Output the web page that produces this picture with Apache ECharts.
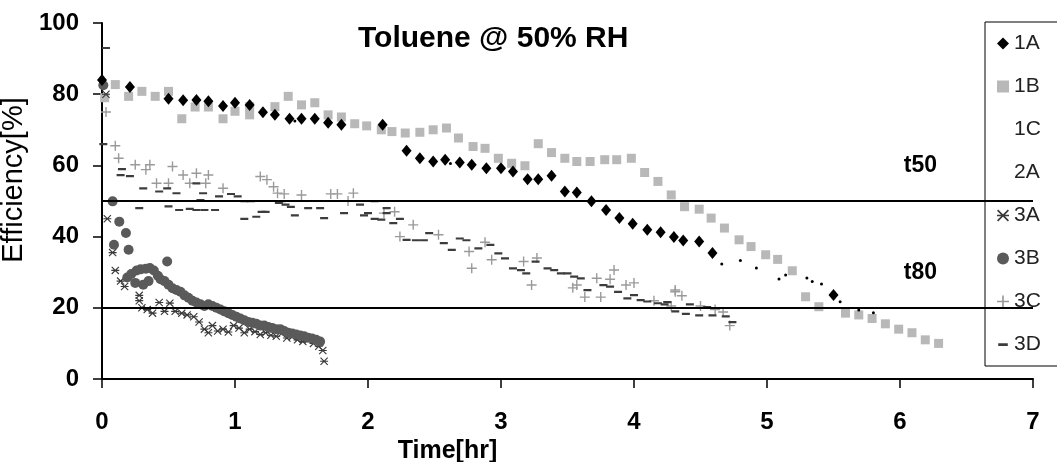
<!DOCTYPE html>
<html>
<head>
<meta charset="utf-8">
<script src="https://cdn.jsdelivr.net/npm/echarts@6/dist/echarts.min.js"></script>
<style>
html,body{margin:0;padding:0;background:#fff;}
#chart{width:1057px;height:462px;}
</style>
</head>
<body>
<div id="chart"></div>
<script>
// ---- data (time [hr], efficiency [%]) ----
const seriesNames = ['1A','1B','1C','2A','3A','3B','3C','3D'];
const xTicks = [0,1,2,3,4,5,6,7];
const yTicks = [0,20,40,60,80,100];
const thresholdValues = [50, 20];
const thresholdLabels = ['t50', 't80'];

const s1A = [[0.0,84],[0.21,82],[0.5,78.7],[0.61,78.3],[0.71,78.4],[0.8,78],[0.91,76.7],[1.0,77.6],[1.11,77],[1.21,74.9],[1.3,74.2],[1.41,73.1],[1.5,73.1],[1.6,73.1],[1.7,72],[1.8,71.4],[2.11,71.4],
  [2.29,64.1],[2.39,62],[2.49,61.1],[2.58,61.6],[2.69,60.8],[2.78,60.2],[2.89,59.2],[3.0,59.2],[3.09,58.3],[3.2,56.1],[3.28,56.1],[3.38,57.1],[3.48,52.7],[3.57,52.4],[3.68,49.9],[3.79,47.5],[3.89,45.2],
  [3.99,43.6],[4.1,41.9],[4.2,41.2],[4.3,39.9],[4.37,38.9],[4.49,38.6],[4.59,35.4],[5.5,23.6]];
const s1B = [[0.02,79],[0.1,82.7],[0.2,79.4],[0.3,80.8],[0.4,79.4],[0.5,80.8],[0.6,73.1],[0.7,76.4],[0.8,76.4],[0.91,73.1],[1.0,75.2],[1.11,74.2],[1.11,76.5],[1.3,76.5],[1.4,79.4],[1.5,77],[1.6,77.6],[1.7,74.2],[1.8,73.6],[1.9,71.7],[1.99,71.1],[2.1,70],
  [2.18,69.5],[2.28,69.1],[2.39,69.3],[2.49,70],[2.59,70.5],[2.68,67.7],[2.79,65.3],[2.88,64.8],[2.98,62],[3.08,60.6],[3.18,59.9],[3.28,66.1],[3.38,63.6],[3.48,62],[3.57,61.1],[3.67,61.1],[3.78,61.6],[3.87,61.6],[3.98,62],[4.08,58],[4.18,55.5],[4.28,51.7],
  [4.38,48.4],[4.49,47.7],[4.58,45.2],[4.68,42.4],[4.79,39.1],[4.88,37.2],[4.99,34.9],[5.08,33.6],[5.19,30.4],[5.29,23.1],[5.39,20.3],[5.59,18.5],[5.69,18],[5.79,17],[5.89,15.5],[5.99,14],[6.09,13],[6.19,11],[6.29,10]];
const s1C = [[4.66,32.3],[4.8,33.3],[4.92,31.2],[5.09,28.1],[5.14,29.2],[5.3,28.4],[5.34,27.4],[5.41,26.7],[5.55,21.7],[5.69,19.4],[5.8,18.6],[2.62,60.5],[1.45,72.5]];
const s2A = [];
const s3A = [[0.03,80],[0.04,45],[0.08,35.5],[0.1,30.5],[0.14,27.5],[0.17,26],[0.28,23.5],[0.28,22],[0.3,20],[0.34,19.5],[0.38,18.5],[0.43,21.5],[0.47,19],[0.51,21.3],[0.55,19],[0.6,18.5],[0.64,18],[0.69,17.5],[0.73,16],[0.77,14],[0.8,13],[0.83,15],[0.87,13.5],[0.91,14],[0.95,13.2],[0.99,15],[1.03,14.3],[1.07,13],[1.11,14],[1.15,13.3],[1.19,12.5],[1.23,13],[1.27,12.3],[1.31,12],[1.35,12.8],[1.39,11.5],[1.43,11.9],[1.47,11],[1.51,10.5],[1.55,11],[1.59,10],[1.63,9.2],[1.66,8],[1.67,5]];
const s3B = [[0.01,82.5],[0.08,49.9],[0.13,44.2],[0.18,41],[0.09,37.7],[0.2,36.3],[0.49,33],
  [0.19,28.5],[0.22,29.5],[0.25,27],[0.26,30.5],[0.29,30.8],[0.31,26.5],[0.33,31],[0.35,27.5],[0.36,31.2],[0.39,30.5],[0.42,29],[0.44,28],[0.47,27.5],[0.5,26.5],[0.53,25.5],[0.56,25],[0.59,24.5],[0.62,23.5],[0.65,22.8],[0.68,22],[0.71,21.5],[0.74,21],[0.77,20.5],[0.8,21],[0.83,20.5],[0.86,20],[0.89,19.5],[0.92,19],[0.95,18.5],[0.98,18],[1.01,17.5],[1.04,17],[1.07,16.5],[1.1,16],[1.13,15.8],[1.16,15.5],[1.19,15],[1.22,15],[1.25,14.6],[1.28,14.3],[1.31,14],[1.34,14],[1.37,13.5],[1.4,13],[1.43,12.8],[1.46,12.5],[1.49,12.2],[1.52,12],[1.55,11.6],[1.58,11.4],[1.61,11],[1.64,10.5]];
const s3C = [[0.03,75],[0.1,65.5],[0.125,62],[0.25,60.2],[0.33,58.8],[0.36,60.2],[0.41,55],[0.5,55],[0.53,59.7],[0.61,57.3],[0.66,55],[0.71,57.8],[0.78,55],[0.8,57.3],[0.91,53.6],[1.19,56.9],[1.24,56],[1.29,54],[1.32,52.2],[1.37,52],[1.5,51.7],[1.72,52],[1.77,52],[1.85,50],[1.89,52.2],[2.12,46.6],[2.2,47],[2.24,40],[2.34,43.3],[2.53,40.5],[2.76,35.8],[2.78,31.1],[2.88,38.4],[2.93,33.5],[3.17,33],[3.23,26.4],[3.27,34],[3.54,25.6],[3.57,26.4],[3.63,23],[3.72,28.3],[3.75,23],[3.82,28],[3.85,30.6],[3.94,26.4],[4.0,27],[4.15,22],[4.28,20.5],[4.31,24.5],[4.31,25],[4.36,23.4],[4.5,20.5],[4.61,19.5],[4.67,18.8],[4.72,15]];
const s3D = [[0.03,93],[0.01,66],[0.15,59],[0.14,57.3],[0.21,57],[0.28,48],[0.31,53.6],[0.43,52.7],[0.49,53.6],[0.5,48.5],[0.56,52.2],[0.58,47.5],[0.66,47.8],[0.71,55],[0.71,47.5],[0.74,50.3],[0.76,52.2],[0.77,47.5],[0.85,47.5],[0.88,51.3],[0.97,52],[1.02,51.3],[1.07,50],[1.07,45],[1.12,50],[1.16,45.6],[1.2,47],[1.23,47],[1.33,49.5],[1.35,50],[1.38,49],[1.42,48.4],[1.45,46],[1.55,48],[1.64,48],[1.67,45.2],[1.82,46.6],[1.94,49],[1.97,46],[2.0,46.6],[2.05,50],[2.05,45],[2.1,44.8],[2.14,48],[2.14,46.6],[2.19,43.8],[2.24,45],[2.29,39.1],[2.36,39],[2.42,39],[2.46,41],[2.57,38.2],[2.63,36.3],[2.69,39.5],[2.74,39],[2.83,36.7],[2.92,37.7],[2.98,35.3],[3.03,33.9],[3.09,31.1],[3.15,30.6],[3.19,29.7],[3.26,33],[3.35,31.1],[3.4,30.6],[3.45,29.7],[3.5,29.7],[3.55,28.8],[3.6,28.3],[3.65,25],[3.77,26.4],[3.82,26],[3.88,24.5],[3.95,22.7],[4.0,23.6],[4.05,22.2],[4.1,21.8],[4.18,21.3],[4.23,21],[4.25,21.6],[4.31,19],[4.39,18.3],[4.42,21],[4.49,17.9],[4.55,20.2],[4.59,17.9],[4.69,17.6],[4.74,16]];

const seriesData = [s1A, s1B, s1C, s2A, s3A, s3B, s3C, s3D];

// ---- styles ----
const FONT = '"Liberation Sans", Arial, sans-serif';
const PATH_ASTERISK = 'path://M0,1L1,0L10,9L9,10ZM9,0L10,1L1,10L0,9ZM0,4.3H10V5.7H0Z';
const PATH_PLUS = 'path://M4.3,0H5.7V4.3H10V5.7H5.7V10H4.3V5.7H0V4.3H4.3Z';
const PATH_DASH = 'path://M0,0ZM1,4H9V6.2H1ZM10,10Z';
const styles = {
  '1A': {symbol:'diamond', size:[10,12], color:'#000000', z:5, icon:'diamond'},
  '1B': {symbol:'rect', size:9, color:'#b8b8b8', z:2, icon:'rect'},
  '1C': {symbol:'circle', size:3, color:'#000000', z:5, icon:'none'},
  '2A': {symbol:'none', size:0, color:'#000', z:1, icon:'none'},
  '3A': {symbol:PATH_ASTERISK, size:8, color:'#3a3a3a', z:3, icon:PATH_ASTERISK},
  '3B': {symbol:'circle', size:10, color:'#5a5a5a', z:4, icon:'circle'},
  '3C': {symbol:PATH_PLUS, size:10, color:'#9a9a9a', z:3, icon:PATH_PLUS},
  '3D': {symbol:PATH_DASH, size:10, color:'#3c3c3c', z:3, icon:PATH_DASH}
};

const series = seriesNames.map((name, i) => {
  const st = styles[name];
  return {
    name: name,
    type: 'scatter',
    data: seriesData[i],
    symbol: st.symbol,
    symbolSize: st.size,
    itemStyle: {color: st.color, opacity: 1},
    z: st.z,
    silent: true
  };
});

series.push({
  name: 'thresholds',
  type: 'line',
  data: [],
  silent: true,
  markLine: {
    silent: true,
    symbol: 'none',
    lineStyle: {color: '#000', width: 2, type: 'solid'},
    label: {
      show: true,
      position: 'insideEndTop',
      distance: [96, 24],
      color: '#000',
      fontFamily: FONT,
      fontWeight: 'bold',
      fontSize: 23
    },
    data: thresholdValues.map((v, i) => ({yAxis: v, label: {formatter: thresholdLabels[i]}}))
  }
});

const chart = echarts.init(document.getElementById('chart'), null, {renderer: 'canvas'});
chart.setOption({
  animation: false,
  backgroundColor: '#fff',
  title: {
    text: 'Toluene @ 50% RH',
    left: 358,
    top: 24,
    padding: 0,
    textStyle: {fontFamily: FONT, fontWeight: 'bold', fontSize: 30, color: '#000'}
  },
  legend: {
    orient: 'vertical',
    left: 985,
    top: 22,
    padding: [11, 40, 11, 12],
    itemGap: 22,
    itemWidth: 12,
    itemHeight: 12,
    borderColor: '#000',
    borderWidth: 1,
    selectedMode: false,
    textStyle: {fontFamily: FONT, fontSize: 21, color: '#222', lineHeight: 20},
    data: seriesNames.map(n => ({name: n, icon: styles[n].icon}))
  },
  grid: {left: 102, right: 24, top: 23, bottom: 83, containLabel: false, outerBoundsMode: 'none'},
  xAxis: {
    type: 'value',
    min: xTicks[0],
    max: xTicks[xTicks.length - 1],
    interval: 1,
    name: 'Time[hr]',
    nameLocation: 'middle',
    nameGap: 55,
    nameTextStyle: {fontFamily: FONT, fontWeight: 'bold', fontSize: 25, color: '#000', padding: [0, 240, 0, 0]},
    axisLine: {show: true, onZero: false, lineStyle: {color: '#000', width: 2}},
    axisTick: {show: true, inside: false, length: 9, lineStyle: {color: '#000', width: 1.5}},
    axisLabel: {fontFamily: FONT, fontWeight: 'bold', fontSize: 24, color: '#000', margin: 31},
    splitLine: {show: false}
  },
  yAxis: {
    type: 'value',
    min: yTicks[0],
    max: yTicks[yTicks.length - 1],
    interval: 20,
    name: 'Efficiency[%]',
    nameLocation: 'middle',
    nameGap: 55,
    nameTextStyle: {fontFamily: FONT, fontSize: 29, color: '#000', padding: [0, 0, 0, 42]},
    axisLine: {show: true, onZero: false, lineStyle: {color: '#000', width: 2}},
    axisTick: {show: true, inside: false, length: 9, lineStyle: {color: '#000', width: 1.5}},
    axisLabel: {fontFamily: FONT, fontWeight: 'bold', fontSize: 24, color: '#000', margin: 23},
    splitLine: {show: false}
  },
  series: series
});
</script>
</body>
</html>
